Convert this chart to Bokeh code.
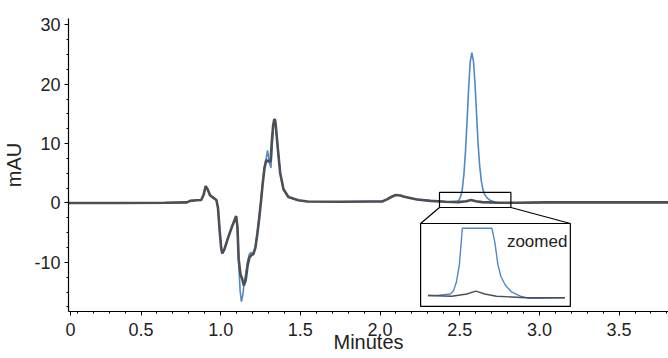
import numpy as np
from bokeh.plotting import figure
from bokeh.models import Range1d, SingleIntervalTicker, Label, FixedTicker
from bokeh.embed import file_html
from bokeh.resources import INLINE

# ---------------- data ----------------
time_gray = [0.04, 0.350, 0.649, 0.788, 0.808, 0.848, 0.878, 0.893, 0.906, 0.918, 0.933, 0.953,
             0.973, 0.983, 0.993, 1.003, 1.010, 1.022, 1.047, 1.072, 1.097, 1.105, 1.113, 1.124,
             1.135, 1.145, 1.157, 1.169, 1.180, 1.192, 1.205, 1.218, 1.231, 1.242, 1.253, 1.263,
             1.275, 1.286, 1.300, 1.313, 1.321, 1.329, 1.336, 1.341, 1.346, 1.358, 1.373, 1.394,
             1.425, 1.487, 1.545, 1.744, 1.943, 2.013, 2.043, 2.073, 2.099, 2.128, 2.152, 2.232,
             2.317, 2.411, 2.491, 2.541, 2.571, 2.601, 2.640, 2.690, 2.740, 2.790, 2.869, 3.039,
             3.437, 3.82]
mau_gray = [0.0, 0.0, 0.05, 0.1, 0.35, 0.45, 0.5, 1.4, 2.85, 2.3, 1.3, 0.9, 0.5,
            -0.8, -4.5, -7.6, -8.5, -7.9, -5.8, -3.9, -2.2, -4.0, -9.5, -12.0, -12.8,
            -13.9, -13.0, -10.5, -9.2, -8.8, -8.6, -7.5, -5.0, -2.5, 0.3, 3.1, 5.9,
            7.2, 7.0, 7.05, 10.4, 13.0, 14.05, 14.0, 13.0, 9.3, 5.1, 2.3, 1.0,
            0.45, 0.25, 0.2, 0.25, 0.25, 0.6, 1.05, 1.35, 1.25, 1.05, 0.6, 0.35, 0.2, 0.15,
            0.3, 0.5, 0.3, 0.15, 0.1, 0.05, 0.05, 0.05, 0.1, 0.1, 0.1]

time_blue = [0.04, 0.350, 0.649, 0.788, 0.808, 0.848, 0.878, 0.893, 0.906, 0.918, 0.933, 0.953,
             0.973, 0.983, 0.993, 1.003, 1.010, 1.022, 1.047, 1.072, 1.097, 1.105, 1.113, 1.122,
             1.130, 1.139, 1.147, 1.157, 1.169, 1.180, 1.192, 1.205, 1.218, 1.231, 1.242, 1.253,
             1.263, 1.275, 1.286, 1.294, 1.304, 1.315, 1.321, 1.329, 1.336, 1.341, 1.346, 1.358,
             1.373, 1.394, 1.425, 1.487, 1.545, 1.744, 1.943, 2.013, 2.043, 2.073, 2.099, 2.128,
             2.152, 2.232, 2.317, 2.411, 2.441, 2.486, 2.496, 2.506, 2.516, 2.526, 2.536, 2.546,
             2.556, 2.566, 2.576, 2.586, 2.596, 2.606, 2.615, 2.625, 2.635, 2.645, 2.655, 2.670,
             2.690, 2.720, 2.750, 2.780, 2.820, 2.869, 3.039, 3.437, 3.82]
mau_blue = [0.0, 0.0, 0.05, 0.1, 0.35, 0.45, 0.5, 1.4, 2.85, 2.3, 1.3, 0.9, 0.5,
            -0.8, -4.5, -7.6, -8.5, -7.9, -5.8, -3.9, -2.2, -4.0, -10.0, -14.8, -16.6,
            -15.5, -13.5, -12.0, -9.8, -8.6, -8.3, -8.6, -7.3, -4.8, -2.2, 0.5, 3.3,
            6.2, 7.6, 8.85, 7.0, 5.9, 8.5, 12.5, 13.9, 14.0, 13.0, 9.3, 5.1,
            2.3, 1.0, 0.45, 0.25, 0.2, 0.25, 0.25, 0.6, 1.05, 1.35, 1.25, 1.05, 0.6,
            0.35, 0.2, 0.2, 0.3, 0.5, 1.1, 2.3, 4.8, 8.6, 13.8, 19.4, 23.8,
            25.3, 23.9, 20.0, 14.8, 10.0, 6.3, 3.8, 2.3, 1.5, 0.9, 0.45, 0.15,
            0.0, 0.0, 0.03, 0.05, 0.1, 0.1, 0.1]

x_tick_values = [0.057, 0.5, 1.0, 1.5, 2.0, 2.5, 3.0, 3.5]
x_tick_labels = ["0", "0.5", "1.0", "1.5", "2.0", "2.5", "3.0", "3.5"]
y_tick_values = [-10, 0, 10, 20, 30]
y_tick_labels = ["-10", "0", "10", "20", "30"]

# ---------------- layout ----------------
X_MAIN = (0.045, 3.810)
Y_MAIN = (-18.27, 31.06)
ZOOM_RECT = (2.373, 2.821, -0.76, 1.77)      # small box, main coords
INSET_BOX = (2.2545, 3.194, -17.42, -3.45)   # inset frame, main coords
INSET_WIN = (2.3864, 2.8872, -0.55, 5.13)    # data window shown in the inset
INSET_SPAN = (2.40, 2.87)
INSET_CLIP = 4.8

GRAY = "#4b4f56"
BLUE = "#4f88c6"
FONT = "Liberation Sans"
TXT = "#222222"

p = figure(width=668, height=358, output_backend="svg", toolbar_location=None,
           x_range=Range1d(*X_MAIN), y_range=Range1d(*Y_MAIN),
           min_border_left=63, min_border_right=0, min_border_top=18, min_border_bottom=47)
p.outline_line_color = None
p.xgrid.visible = False
p.ygrid.visible = False
p.background_fill_color = "white"


def inset_range(w0, w1, b0, b1, m0, m1):
    k = (w1 - w0) / (b1 - b0)
    return Range1d(w0 + (m0 - b0) * k, w0 + (m1 - b0) * k)


p.extra_x_ranges = {"ix": inset_range(INSET_WIN[0], INSET_WIN[1], INSET_BOX[0], INSET_BOX[1], *X_MAIN)}
p.extra_y_ranges = {"iy": inset_range(INSET_WIN[2], INSET_WIN[3], INSET_BOX[2], INSET_BOX[3], *Y_MAIN)}

# main traces
p.line(time_blue, mau_blue, line_color=BLUE, line_width=1.6)
p.line(time_gray, mau_gray, line_color=GRAY, line_width=2.6)

# zoom rectangle and connectors
p.quad(left=[ZOOM_RECT[0]], right=[ZOOM_RECT[1]], bottom=[ZOOM_RECT[2]], top=[ZOOM_RECT[3]],
       fill_color=None, line_color="black", line_width=1.2)
p.segment(x0=[ZOOM_RECT[0], ZOOM_RECT[1]], y0=[ZOOM_RECT[2], ZOOM_RECT[2]],
          x1=[INSET_BOX[0], INSET_BOX[1]], y1=[INSET_BOX[3], INSET_BOX[3]],
          line_color="black", line_width=1.2)
p.quad(left=[INSET_BOX[0]], right=[INSET_BOX[1]], bottom=[INSET_BOX[2]], top=[INSET_BOX[3]],
       fill_color="white", line_color="black", line_width=1.2)

# inset traces
tb = np.array(time_blue); vb = np.array(mau_blue)
tg = np.array(time_gray); vg = np.array(mau_gray)
mb = (tb >= INSET_SPAN[0]) & (tb <= INSET_SPAN[1])
mg = (tg >= INSET_SPAN[0]) & (tg <= INSET_SPAN[1])
p.line(tb[mb], np.minimum(vb[mb], INSET_CLIP), line_color=BLUE, line_width=1.4,
       x_range_name="ix", y_range_name="iy")
p.line(tg[mg], vg[mg], line_color=GRAY, line_width=1.4,
       x_range_name="ix", y_range_name="iy")

p.add_layout(Label(x=2.796, y=-6.48, text="zoomed", text_font=FONT, text_font_size="17px",
                   text_color=TXT, text_baseline="alphabetic"))

# axes
p.xaxis.ticker = FixedTicker(ticks=x_tick_values,
                             minor_ticks=[round(i * 0.1, 1) for i in range(1, 39)])
p.xaxis.major_label_overrides = {v: l for v, l in zip(x_tick_values, x_tick_labels)}
p.yaxis.ticker = SingleIntervalTicker(interval=10, num_minor_ticks=4)
p.yaxis.major_label_overrides = {v: l for v, l in zip(y_tick_values, y_tick_labels)}
p.xaxis.axis_label = "Minutes"
p.yaxis.axis_label = "mAU"
for ax in (p.xaxis[0], p.yaxis[0]):
    ax.axis_line_color = "black"
    ax.axis_line_width = 1.2
    ax.major_tick_line_color = "black"
    ax.minor_tick_line_color = "black"
    ax.major_tick_in = 0
    ax.major_tick_out = 4
    ax.minor_tick_in = 0
    ax.minor_tick_out = 2
    ax.major_label_text_font = FONT
    ax.major_label_text_font_size = "18px"
    ax.major_label_text_color = TXT
    ax.axis_label_text_font = FONT
    ax.axis_label_text_font_style = "normal"
    ax.axis_label_text_color = TXT
p.xaxis.major_label_standoff = 7
p.yaxis.major_label_standoff = 4
p.xaxis.axis_label_text_font_size = "20px"
p.xaxis.axis_label_standoff = -8
p.yaxis.axis_label_text_font_size = "20px"
p.yaxis.axis_label_standoff = 6

open("out.html", "w").write(file_html(p, INLINE))
